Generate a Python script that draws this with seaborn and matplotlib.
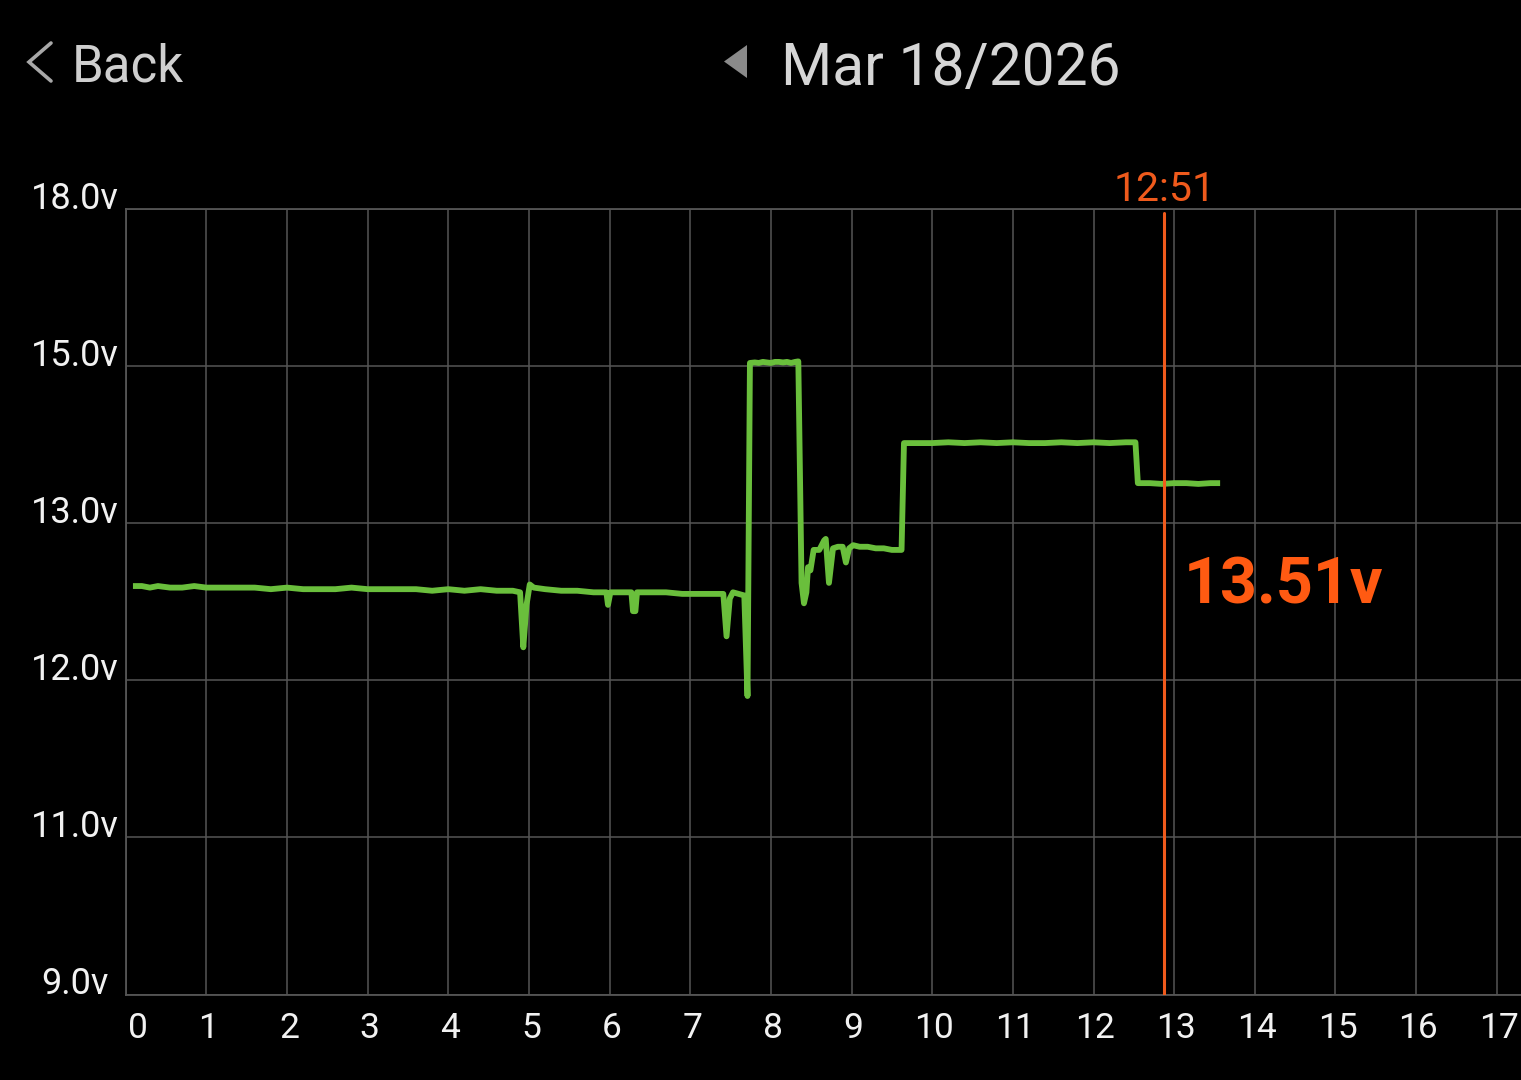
import numpy as np
import pandas as pd
import matplotlib
matplotlib.use("Agg")
import matplotlib.pyplot as plt
import matplotlib.transforms as mtransforms
from matplotlib.lines import Line2D
from matplotlib.patches import Polygon
import seaborn as sns

# ---------------- data ----------------
hours = [0.09, 0.20, 0.30, 0.40, 0.55, 0.70, 0.85, 1.00, 1.20, 1.40, 1.60, 1.80, 2.00,
         2.20, 2.40, 2.60, 2.80, 3.00, 3.20, 3.40, 3.60, 3.80, 4.00, 4.20, 4.40,
         4.60, 4.80, 4.89,
         4.93, 4.97, 5.01, 5.06, 5.20, 5.40, 5.60, 5.80, 5.96, 5.98, 6.01, 6.10,
         6.27, 6.29, 6.32, 6.34, 6.50, 6.70, 6.90, 7.10, 7.30, 7.41,
         7.45, 7.49, 7.53, 7.60, 7.67, 7.71,
         7.74, 7.80, 7.85, 7.90, 7.95, 8.00, 8.05, 8.10, 8.15, 8.20, 8.25, 8.30, 8.34,
         8.38, 8.41, 8.44, 8.46, 8.49, 8.53, 8.60, 8.64, 8.66, 8.68, 8.72, 8.77,
         8.83, 8.89, 8.93, 8.97, 9.02, 9.10, 9.20, 9.30, 9.40, 9.50, 9.62,
         9.65, 9.80, 10.00, 10.20, 10.40, 10.60, 10.80, 11.00, 11.20, 11.40, 11.60,
         11.80, 12.00, 12.20, 12.40, 12.52,
         12.55, 12.70, 12.85, 13.00, 13.15, 13.30, 13.45, 13.57]
volts = [12.60, 12.60, 12.59, 12.60, 12.59, 12.59, 12.60, 12.59, 12.59, 12.59, 12.59, 12.58, 12.59,
         12.58, 12.58, 12.58, 12.59, 12.58, 12.58, 12.58, 12.58, 12.57, 12.58, 12.57, 12.58,
         12.57, 12.57, 12.56,
         12.21, 12.48, 12.61, 12.59, 12.58, 12.57, 12.57, 12.56, 12.56, 12.48, 12.56, 12.56,
         12.56, 12.44, 12.44, 12.56, 12.56, 12.56, 12.55, 12.55, 12.55, 12.55,
         12.28, 12.52, 12.56, 12.55, 12.54, 11.90,
         15.06, 15.07, 15.06, 15.08, 15.07, 15.06, 15.08, 15.08, 15.07, 15.08, 15.06, 15.08, 15.09,
         12.62, 12.49, 12.56, 12.72, 12.70, 12.83, 12.83, 12.87, 12.89, 12.90, 12.62, 12.84,
         12.85, 12.85, 12.75, 12.84, 12.86, 12.85, 12.85, 12.84, 12.84, 12.83, 12.83,
         14.02, 14.02, 14.02, 14.03, 14.02, 14.03, 14.02, 14.03, 14.02, 14.02, 14.03,
         14.02, 14.03, 14.02, 14.03, 14.03,
         13.51, 13.51, 13.50, 13.51, 13.51, 13.50, 13.51, 13.51]

y_ticks = [9.0, 11.0, 12.0, 13.0, 15.0, 18.0]
y_tick_labels = ["9.0v", "11.0v", "12.0v", "13.0v", "15.0v", "18.0v"]
x_ticks = list(range(18))
x_tick_labels = [str(h) for h in x_ticks]

cursor_hour = 12.88
cursor_label = "12:51"
cursor_value = "13.51v"
date_label = "Mar 18/2026"
back_label = "Back"

# ---------------- style ----------------
sns.set_theme(style="dark")
plt.rcParams['font.family'] = ['Roboto', 'DejaVu Sans']

BG = "#000000"
GRID = "#555555"
GREEN = "#6abf3c"
ORANGE = "#ef5a1c"

W, H = 1521, 1080
fig = plt.figure(figsize=(W / 100, H / 100), dpi=100, facecolor=BG)
ax_left, ax_right, ax_top, ax_bot = 125.7, 1521, 209, 994.5
ax = fig.add_axes([ax_left / W, 1 - ax_bot / H, (ax_right - ax_left) / W, (ax_bot - ax_top) / H])
ax.set_facecolor(BG)

# piecewise-linear voltage scale (equal spacing between labelled levels)
knots_v = np.array(y_ticks)
knots_p = np.arange(len(y_ticks), dtype=float)


def fwd(v):
    return np.interp(v, knots_v, knots_p)


def inv(p):
    return np.interp(p, knots_p, knots_v)


ax.set_yscale('function', functions=(fwd, inv))

df = pd.DataFrame({"hour": hours, "volt": volts})
sns.lineplot(data=df, x="hour", y="volt", ax=ax, color=GREEN, linewidth=4.2,
             estimator=None, sort=False, solid_joinstyle="round", solid_capstyle="butt")

ax.set_xlim(0, (ax_right - ax_left) / 80.65)
ax.set_ylim(9, 18)

ax.set_xticks(x_ticks)
ax.set_xticklabels(x_tick_labels, fontsize=25.5, color="#f2f2f2")
ax.set_yticks(y_ticks)
ax.set_yticklabels(y_tick_labels, fontsize=26, color="#f2f2f2", ha="center", va="baseline")
ax.yaxis.set_minor_locator(matplotlib.ticker.NullLocator())
ax.tick_params(axis="y", length=0, pad=36.7)
ax.tick_params(axis="x", length=0, pad=12.5)
shift = mtransforms.ScaledTranslation(2 / 100, 0, fig.dpi_scale_trans)
for lbl in ax.get_xticklabels():
    lbl.set_transform(lbl.get_transform() + shift)
ax.get_xticklabels()[0].set_ha("left")

ax.grid(True, color=GRID, linewidth=1.1)
ax.set_xlabel("")
ax.set_ylabel("")
for side in ["left", "bottom", "top"]:
    ax.spines[side].set_visible(True)
    ax.spines[side].set_color(GRID)
    ax.spines[side].set_linewidth(1.3)
ax.spines["right"].set_visible(False)

# cursor line and labels
ax.axvline(cursor_hour, ymin=0, ymax=0.995, color=ORANGE, linewidth=2.2, zorder=5)
ax.annotate(cursor_label, xy=(cursor_hour, 18), xycoords="data",
            xytext=(0, 5.8), textcoords="offset points", ha="center", va="baseline",
            fontsize=29.5, color=ORANGE, annotation_clip=False)
ax.text((1184 - ax_left) / (ax_right - ax_left), (ax_bot - 603) / (ax_bot - ax_top), cursor_value,
        transform=ax.transAxes, ha="left", va="baseline", fontsize=46.5, fontweight="bold",
        color="#ff5a12")

# header
fig.text(72 / W, 1 - 82 / H, back_label, ha="left", va="baseline", fontsize=36.7, color="#cfcfcf")
fig.add_artist(Line2D([51 / W, 29 / W, 51 / W], [1 - 43 / H, 1 - 62 / H, 1 - 81 / H],
                      transform=fig.transFigure, color="#a8a8a8", linewidth=2.6,
                      solid_joinstyle="miter"))
fig.add_artist(Polygon([[747 / W, 1 - 45 / H], [724 / W, 1 - 61.5 / H], [747 / W, 1 - 78 / H]],
                       closed=True, transform=fig.transFigure, facecolor="#8a8a8a",
                       edgecolor="none"))
fig.text(781 / W, 1 - 85 / H, date_label, ha="left", va="baseline", fontsize=42.2, color="#d6d6d6")

fig.savefig("out.png", dpi=100, facecolor=BG)
